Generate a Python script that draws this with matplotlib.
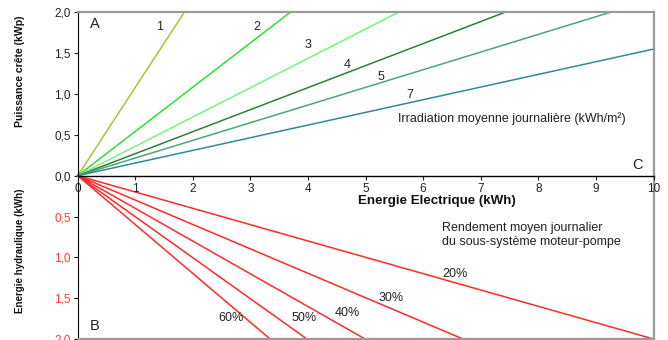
import matplotlib
matplotlib.use('Agg')
import matplotlib.pyplot as plt

plt.rcParams['font.family'] = ['Liberation Sans', 'DejaVu Sans']

# top panel : puissance crete vs energie electrique, one line per irradiation
irradiation = ['1', '2', '3', '4', '5', '7']
pv_x_end = [1.85, 3.69, 5.57, 7.42, 9.25, 10.0]
pv_y_end = [2.0, 2.0, 2.0, 2.0, 2.0, 1.55]
pv_colors = ['#a6c43c', '#2ee02e', '#7cf27c', '#2f7f35', '#4ea578', '#2f8a95']
pv_label_x = [1.43, 3.11, 4.00, 4.68, 5.26, 5.77]
pv_label_y = [1.82, 1.82, 1.60, 1.36, 1.21, 0.99]

# bottom panel : energie hydraulique vs energie electrique, one line per rendement
rendement = ['20%', '30%', '40%', '50%', '60%']
hyd_x_end = [10.0, 6.69, 4.99, 3.98, 3.34]
hyd_y_end = [2.0, 2.0, 2.0, 2.0, 2.0]
hyd_label_x = [6.55, 5.44, 4.69, 3.93, 2.66]
hyd_label_y = [1.20, 1.50, 1.68, 1.74, 1.74]

x_ticks = [0, 1, 2, 3, 4, 5, 6, 7, 8, 9, 10]
top_yticks = [0.0, 0.5, 1.0, 1.5, 2.0]
top_ylabels = ['0,0', '0,5', '1,0', '1,5', '2,0']
bot_yticks = [0.5, 1.0, 1.5, 2.0]
bot_ylabels = ['0,5', '1,0', '1,5', '2,0']

fig = plt.figure(figsize=(6.68, 3.40), dpi=100)
W, H = 668.0, 340.0
left, right = 77.7, 653.5
y_top, y_mid, y_bot = 12.3, 175.7, 339.0

ax_b = fig.add_axes([left / W, 1 - y_bot / H, (right - left) / W, (y_bot - y_mid) / H])
ax_t = fig.add_axes([left / W, 1 - y_mid / H, (right - left) / W, (y_mid - y_top) / H])
ax_t.patch.set_visible(False)
ax_b.patch.set_visible(False)

grey = '#9a9a9a'
fs = 9
tfs = 8.5

# --- top ---
for i in range(len(irradiation)):
    ax_t.plot([0, pv_x_end[i]], [0, pv_y_end[i]], color=pv_colors[i], lw=1.1, clip_on=False)
    ax_t.text(pv_label_x[i], pv_label_y[i], irradiation[i], fontsize=fs, ha='center', va='center', color='#222222')
ax_t.set_xlim(0, 10)
ax_t.set_ylim(0, 2)
ax_t.set_xticks(x_ticks)
ax_t.set_xticklabels([str(t) for t in x_ticks])
ax_t.set_yticks(top_yticks)
ax_t.set_yticklabels(top_ylabels)
ax_t.tick_params(axis='x', direction='out', length=3, width=0.8, pad=2.5, labelsize=tfs, colors='#222222')
ax_t.tick_params(axis='y', direction='out', length=3, width=0.8, pad=2, labelsize=tfs, colors='#222222')
ax_t.spines['top'].set_color(grey)
ax_t.spines['top'].set_linewidth(1.6)
ax_t.spines['right'].set_color(grey)
ax_t.spines['right'].set_linewidth(1.6)
ax_t.spines['left'].set_color('black')
ax_t.spines['bottom'].set_color('black')
ax_t.spines['bottom'].set_linewidth(1.0)
ax_t.spines['bottom'].set_zorder(5)

ax_t.text(0.30, 1.855, 'A', fontsize=10.5, ha='center', va='center', color='#222222')
ax_t.text(9.73, 0.13, 'C', fontsize=10.5, ha='center', va='center', color='#222222')
ax_t.text(5.56, 0.694, 'Irradiation moyenne journalière (kWh/m²)', fontsize=fs,
          ha='left', va='center', color='#222222')

# --- bottom ---
for i in range(len(rendement)):
    ax_b.plot([0, hyd_x_end[i]], [0, hyd_y_end[i]], color='#ff2a2a', lw=1.1, clip_on=False)
    ax_b.text(hyd_label_x[i], hyd_label_y[i], rendement[i], fontsize=fs, ha='center', va='center', color='#222222')
ax_b.set_xlim(0, 10)
ax_b.set_ylim(2, 0)
ax_b.set_xticks([])
ax_b.set_yticks(bot_yticks)
ax_b.set_yticklabels(bot_ylabels)
ax_b.tick_params(axis='y', direction='out', length=3, width=0.8, pad=2, labelsize=tfs, labelcolor='#ff3a3a')
ax_b.spines['top'].set_visible(False)
ax_b.spines['right'].set_color(grey)
ax_b.spines['right'].set_linewidth(1.6)
ax_b.spines['bottom'].set_color(grey)
ax_b.spines['bottom'].set_linewidth(1.6)
ax_b.spines['left'].set_color('black')

ax_b.text(0.30, 1.84, 'B', fontsize=10.5, ha='center', va='center', color='#222222')
ax_b.text(6.32, 0.636, 'Rendement moyen journalier', fontsize=fs, ha='left', va='center', color='#222222')
ax_b.text(6.32, 0.81, 'du sous-système moteur-pompe', fontsize=fs, ha='left', va='center', color='#222222')

# axis titles
fig.text(437 / W, 1 - 201 / H, 'Energie Electrique (kWh)', fontsize=9.6, fontweight='bold',
         ha='center', va='center', color='#111111')
fig.text(20 / W, 1 - 71 / H, 'Puissance crête (kWp)', fontsize=7.6, fontweight='bold',
         rotation=90, ha='center', va='center', color='#111111')
fig.text(20 / W, 1 - 251 / H, 'Energie hydraulique (kWh)', fontsize=7, fontweight='bold',
         rotation=90, ha='center', va='center', color='#111111')

fig.savefig('out.png', dpi=100)
